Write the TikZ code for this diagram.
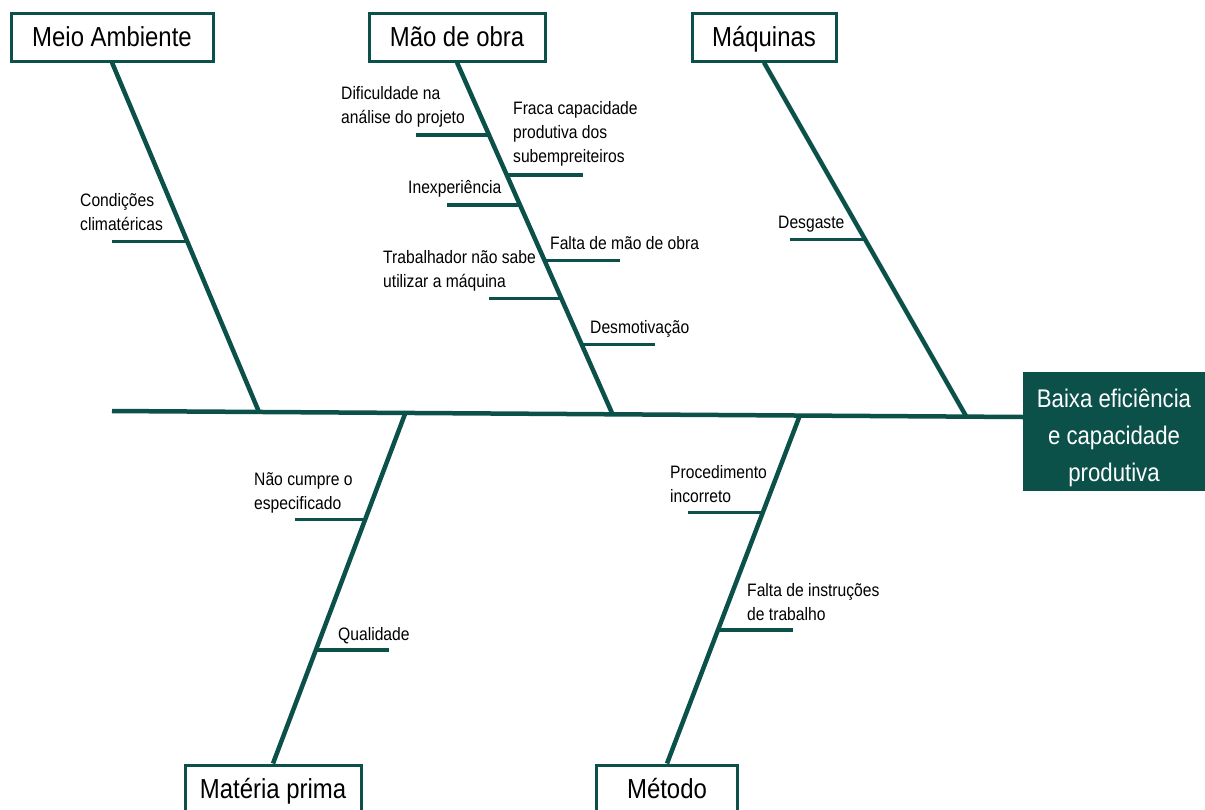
\documentclass[tikz,border=0pt]{standalone}
\usepackage{fontspec}
\setmainfont{Liberation Sans}[FakeStretch=0.87]
\usetikzlibrary{calc}
\definecolor{peixe}{RGB}{12,80,74}
\tikzset{
  causa/.style={draw=peixe, line width=3pt, fill=white, inner sep=0pt, minimum height=48pt, text height=21pt, text depth=2pt, font=\fontsize{27.5}{30}\selectfont},
  efeito/.style={draw=peixe, fill=peixe, text=white, line width=1pt, inner sep=0pt, minimum width=182pt, minimum height=118pt, text height=100pt, text depth=0pt, align=center, font=\fontsize{25.5}{37}\selectfont},
  espinha/.style={draw=peixe, line width=4.5pt},
  ramo/.style={draw=peixe, line width=3.5pt},
  rotulo/.style={inner sep=0pt, anchor=base west, align=left, font=\fontsize{18}{24}\selectfont}
}

\begin{document}
\begin{tikzpicture}[x=1pt,y=1pt,yscale=-1,xscale=1]
                \useasboundingbox (0,0) rectangle (1205,809);
                %Box: efeito
                \node [efeito] (ef) at (1114,431) {Baixa eficiência\\e capacidade\\produtiva};
                %Box: causas de cima
                \node [causa, minimum width=202pt] (ma) at (112,37) {Meio Ambiente};
                \node [causa, minimum width=176pt] (mo) at (457,37) {Mão de obra};
                \node [causa, minimum width=144pt] (mq) at (764,37) {Máquinas};
                %Box: causas de baixo
                \node [causa, minimum width=176pt] (mp) at (273,789) {Matéria prima};
                \node [causa, minimum width=141pt] (mt) at (667,789) {Método};
                %Spine
                \coordinate (cauda) at (112,411);
                \coordinate (cabeca) at (1023,417);
                \coordinate (spMA) at (259,412);
                \coordinate (spMP) at (405,414);
                \coordinate (spMO) at (612,413);
                \coordinate (spMT) at (800,415);
                \coordinate (spMQ) at (966,416);
                \draw [espinha] (cauda) -- (cabeca);
                %Bones
                \draw [espinha] (ma.south) -- (spMA);
                \draw [espinha] (mo.south) -- (spMO);
                \draw [espinha] (mq.south) -- (spMQ);
                \draw [espinha] (spMP) -- (mp.north);
                \draw [espinha] (spMT) -- (mt.north);
                %Ribs: Meio Ambiente
                \coordinate (ma1) at ($(ma.south)!0.512!(spMA)$);
                \draw [ramo] (ma1) -- ++(-75,0);
                \node [rotulo] (tma1) at (80,230) {Condições\\climatéricas};
                %Ribs: Mão de obra
                \coordinate (mo1) at ($(mo.south)!0.207!(spMO)$);
                \coordinate (mo2) at ($(mo.south)!0.321!(spMO)$);
                \coordinate (mo3) at ($(mo.south)!0.406!(spMO)$);
                \coordinate (mo4) at ($(mo.south)!0.565!(spMO)$);
                \coordinate (mo5) at ($(mo.south)!0.673!(spMO)$);
                \coordinate (mo6) at ($(mo.south)!0.804!(spMO)$);
                \draw [ramo] (mo1) -- ++(-73,0);
                \draw [ramo] (mo2) -- ++(76,0);
                \draw [ramo] (mo3) -- ++(-73,0);
                \draw [ramo] (mo4) -- ++(75,0);
                \draw [ramo] (mo5) -- ++(-72,0);
                \draw [ramo] (mo6) -- ++(73,0);
                \node [rotulo] (tmo1) at (341,123) {Dificuldade na\\análise do projeto};
                \node [rotulo] (tmo2) at (513,162) {Fraca capacidade\\produtiva dos\\subempreiteiros};
                \node [rotulo] (tmo3) at (408,193) {Inexperiência};
                \node [rotulo] (tmo4) at (550,249) {Falta de mão de obra};
                \node [rotulo] (tmo5) at (383,287) {Trabalhador não sabe\\utilizar a máquina};
                \node [rotulo] (tmo6) at (590,333) {Desmotivação};
                %Ribs: Máquinas
                \coordinate (mq1) at ($(mq.south)!0.501!(spMQ)$);
                \draw [ramo] (mq1) -- ++(-75,0);
                \node [rotulo] (tmq1) at (778,228) {Desgaste};
                %Ribs: Matéria prima
                \coordinate (mp1) at ($(spMP)!0.302!(mp.north)$);
                \coordinate (mp2) at ($(spMP)!0.675!(mp.north)$);
                \draw [ramo] (mp1) -- ++(-70,0);
                \draw [ramo] (mp2) -- ++(73,0);
                \node [rotulo] (tmp1) at (254,509) {Não cumpre o\\especificado};
                \node [rotulo] (tmp2) at (338,640) {Qualidade};
                %Ribs: Método
                \coordinate (mt1) at ($(spMT)!0.280!(mt.north)$);
                \coordinate (mt2) at ($(spMT)!0.617!(mt.north)$);
                \draw [ramo] (mt1) -- ++(-75,0);
                \draw [ramo] (mt2) -- ++(75,0);
                \node [rotulo] (tmt1) at (670,502) {Procedimento\\incorreto};
                \node [rotulo] (tmt2) at (747,620) {Falta de instruções\\de trabalho};
            \end{tikzpicture}
\end{document}
